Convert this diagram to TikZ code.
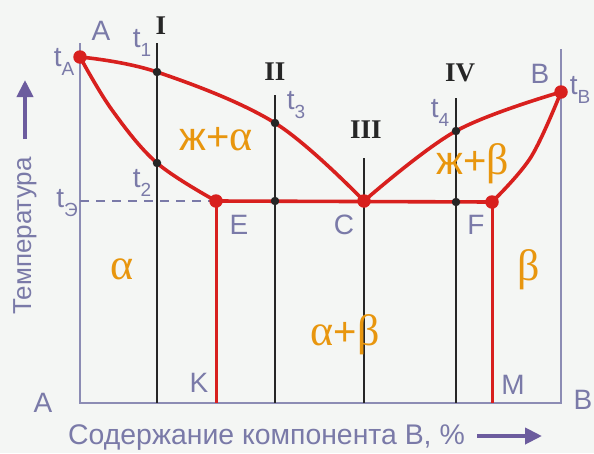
\documentclass[tikz,border=0pt]{standalone}
\usepackage{fontspec}
\setmainfont{Liberation Sans}
\newfontfamily\serifgr{Liberation Serif}
\usetikzlibrary{arrows.meta}
\definecolor{bg}{HTML}{F4F6F4}
\definecolor{axisc}{HTML}{8C8CB4}
\definecolor{lblc}{HTML}{7A7AA8}
\definecolor{redc}{HTML}{D8201E}
\definecolor{phc}{HTML}{E8960E}
\definecolor{arrc}{HTML}{6C5C9E}
\newcommand{\tsb}[1]{t\raisebox{-0.32em}{\fontsize{19}{19}\selectfont #1}}
\newcommand{\gr}[1]{{\serifgr\fontsize{44}{44}\selectfont #1}}
\tikzset{
  axisline/.style={draw=axisc, line width=2.4pt},
  blackline/.style={draw=black!85, line width=1.8pt},
  redline/.style={draw=redc, line width=3.6pt, line join=round},
  lbl/.style={text=lblc, font=\fontsize{28}{28}\selectfont, inner sep=0pt},
  roman/.style={text=black!85, font=\serifgr\bfseries\fontsize{27}{27}\selectfont, inner sep=0pt},
  phase/.style={text=phc, font=\fontsize{40}{40}\selectfont, inner sep=0pt},
  bdot/.style={circle, fill=black!85, inner sep=0pt, minimum size=8.5pt},
  rdot/.style={circle, fill=redc, inner sep=0pt, minimum size=13.5pt},
}
\begin{document}
\begin{tikzpicture}[x=1pt, y=-1pt]
\useasboundingbox (0,0) rectangle (594,453);
\fill[bg] (0,0) rectangle (594,453);
% key coordinates
\coordinate (Atop) at (80,43);
\coordinate (Abot) at (80,403);
\coordinate (Btop) at (561,49);
\coordinate (Bbot) at (561,403);
\coordinate (Itop) at (157,43);  \coordinate (Ibot) at (157,403);
\coordinate (IItop) at (275,95); \coordinate (IIbot) at (275,403);
\coordinate (IIItop) at (364,158); \coordinate (IIIbot) at (364,403);
\coordinate (IVtop) at (456,98); \coordinate (IVbot) at (456,403);
\coordinate (Kb) at (216,403);
\coordinate (Mb) at (492,403);
\coordinate (tE) at (80,201);
% axes
\draw[axisline] (Atop) -- (Abot) -- (Bbot) -- (Btop);
% alloy verticals
\draw[blackline] (Itop) -- (Ibot);
\draw[blackline] (IItop) -- (IIbot);
\draw[blackline] (IIItop) -- (IIIbot);
\draw[blackline] (IVtop) -- (IVbot);
% points
\coordinate (tA) at (80,57);
\coordinate (tB) at (561,92);
\coordinate (t1) at (157,72);
\coordinate (t2) at (157,163);
\coordinate (t3) at (275,123);
\coordinate (t4) at (456,131);
\coordinate (E) at (216,201);
\coordinate (C) at (364,201);
\coordinate (F) at (492,202);
\coordinate (p2) at (275,201);
\coordinate (p4) at (456,202);
% dashed eutectic temp
\draw[draw=lblc, line width=1.4pt, dash pattern=on 9pt off 7pt] (tE) -- (E);
% red lines
\draw[redline] plot[smooth, tension=0.6] coordinates {(tA) (t1) (t3) (C)};
\draw[redline] plot[smooth, tension=0.6] coordinates {(tA) (112,110) (t2) (E)};
\draw[redline] plot[smooth, tension=0.6] coordinates {(C) (t4) (tB)};
\draw[redline] plot[smooth, tension=0.6] coordinates {(tB) (531,157) (F)};
\draw[redline] (E) -- (F);
\draw[redline, line width=3pt] (E) -- (Kb);
\draw[redline, line width=3pt] (F) -- (Mb);
% dots
\foreach \p in {t1,t2,t3,t4,p2,p4} \node[bdot] at (\p) {};
\foreach \p in {tA,tB,E,C,F} \node[rdot] at (\p) {};
% labels
\node[lbl] (lA) at (101,31) {A};
\node[lbl] (lB) at (540,74) {B};
\node[lbl] (lAb) at (43,403) {A};
\node[lbl] (lBb) at (583,400) {B};
\node[lbl] (ltA) at (64,62) {\tsb{A}};
\node[lbl] (ltB) at (580,90) {\tsb{B}};
\node[lbl] (lt1) at (142,43) {\tsb{1}};
\node[lbl] (lt2) at (142,183) {\tsb{2}};
\node[lbl] (lt3) at (296,105) {\tsb{3}};
\node[lbl] (lt4) at (440,113) {\tsb{4}};
\node[lbl] (ltE) at (67,203) {\tsb{Э}};
\node[lbl] (lE) at (239,225) {E};
\node[lbl] (lC) at (344,225) {C};
\node[lbl] (lF) at (476,225) {F};
\node[lbl] (lK) at (199,383) {K};
\node[lbl] (lM) at (513,385) {M};
\node[roman] (rI) at (161,26) {I};
\node[roman] (rII) at (275,72) {II};
\node[roman] (rIII) at (366,130) {III};
\node[roman] (rIV) at (460,73) {IV};
\node[phase] (ph1) at (216,139) {ж+\gr{α}};
\node[phase] (ph2) at (473,164) {ж+\gr{β}};
\node[phase] (ph3) at (122,269) {\gr{α}};
\node[phase] (ph4) at (529,270) {\gr{β}};
\node[phase] (ph5) at (345,335) {\gr{α}+\gr{β}};
% axis titles
\node[lbl, rotate=90, font=\fontsize{26}{26}\selectfont] (temp) at (25,236) {Температура};
\coordinate (ua1) at (25,139);
\coordinate (ua2) at (25,80);
\draw[draw=arrc, line width=4pt, -{Triangle[length=17pt,width=16pt]}] (ua1) -- (ua2);
\node[lbl, font=\fontsize{28.4}{28.4}\selectfont, anchor=west] (comp) at (68,438) {Содержание компонента В, \%};
\coordinate (ra1) at (477,436);
\coordinate (ra2) at (542,436);
\draw[draw=arrc, line width=4pt, -{Triangle[length=17pt,width=16pt]}] (ra1) -- (ra2);
\end{tikzpicture}
\end{document}
